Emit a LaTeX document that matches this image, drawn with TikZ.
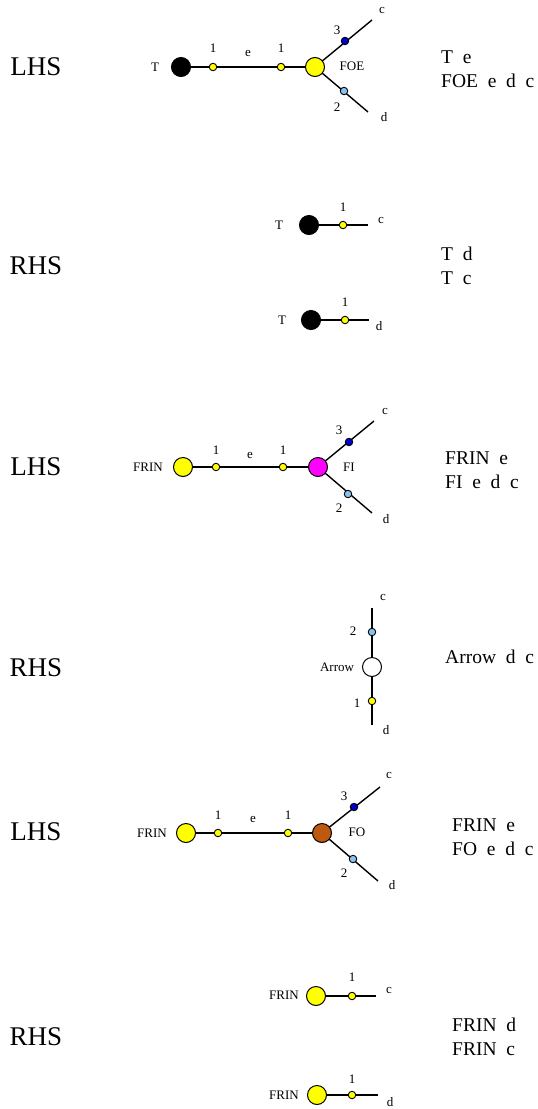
\documentclass[tikz,border=0pt]{standalone}
\usepackage[dvipsnames,svgnames,x11names]{xcolor}
\usepackage{fontspec}
\setmainfont{Liberation Serif}
\usetikzlibrary{backgrounds}
\definecolor{portdark}{RGB}{0,0,205}
\definecolor{portlight}{RGB}{135,195,238}
\definecolor{fobrown}{RGB}{190,90,15}
\definecolor{dotyellow}{RGB}{255,255,0}
\definecolor{fimagenta}{RGB}{255,0,255}
\tikzset{
  bigdot/.style={circle,draw,line width=1pt,minimum size=19pt,inner sep=0pt},
  smalldot/.style={circle,draw,line width=0.9pt,minimum size=7.5pt,inner sep=0pt},
  lbl/.style={font=\fontsize{13}{15}\selectfont,inner sep=0pt},
  side/.style={font=\fontsize{27}{30}\selectfont,inner sep=0pt},
  rel/.style={font=\fontsize{19.5}{24}\selectfont,align=left,anchor=west,inner sep=0pt},
  wire/.style={line width=1.4pt}
}

\begin{document}
\begin{tikzpicture}[x=1pt,y=-1pt]
    \useasboundingbox (0,0) rectangle (538,1109);
    \node[side] (lhsA) at (36,67) {LHS};
    \node[bigdot,fill=black] (tA) at (181,67) {};
    \node[lbl] (tAl) at (155,67) {T};
    \node[smalldot,fill=dotyellow] (pA1) at (213,67) {};
    \node[lbl] at (213,48) {1};
    \node[lbl] at (248,53) {e};
    \node[smalldot,fill=dotyellow] (pA2) at (281,67) {};
    \node[lbl] at (281,48) {1};
    \node[bigdot,fill=dotyellow] (foeA) at (315,67) {};
    \node[lbl] at (352,66) {FOE};
    \node[smalldot,fill=portdark] (qA3) at (345,41) {};
    \node[lbl] at (337,30) {3};
    \coordinate (cA) at (372,20);
    \node[lbl] at (382,10) {c};
    \node[smalldot,fill=portlight] (qA2) at (344,91) {};
    \node[lbl] at (337,107) {2};
    \coordinate (dA) at (368,112);
    \node[lbl] at (384,117) {d};
    \node[rel] (relA) at (441,69) {T\ \ e\\FOE\ \ e\ \ d\ \ c};
    \begin{scope}[on background layer]
        \draw[wire] (tA)--(pA1)--(pA2)--(foeA);
        \draw[wire] (foeA.center)--(cA);
        \draw[wire] (foeA.center)--(dA);
    \end{scope}

    \node[side] (rhsB) at (36,266) {RHS};
    \node[lbl] at (279,225) {T};
    \node[bigdot,fill=black] (tB1) at (309,225) {};
    \node[smalldot,fill=dotyellow] (pB1) at (343,225) {};
    \node[lbl] at (343,207) {1};
    \coordinate (cB) at (368,225);
    \node[lbl] at (381,220) {c};
    \node[lbl] at (282,320) {T};
    \node[bigdot,fill=black] (tB2) at (311,320) {};
    \node[smalldot,fill=dotyellow] (pB2) at (345,320) {};
    \node[lbl] at (345,302) {1};
    \coordinate (dB) at (369,320);
    \node[lbl] at (379,326) {d};
    \node[rel] (relB) at (441,266) {T\ \ d\\T\ \ c};
    \begin{scope}[on background layer]
        \draw[wire] (tB1)--(pB1)--(cB);
        \draw[wire] (tB2)--(pB2)--(dB);
    \end{scope}

    \node[side] (lhsC) at (36,467) {LHS};
    \node[lbl] at (148,467) {FRIN};
    \node[bigdot,fill=dotyellow] (fC) at (183,467) {};
    \node[smalldot,fill=dotyellow] (pC1) at (216,467) {};
    \node[lbl] at (216,450) {1};
    \node[lbl] at (250,455) {e};
    \node[smalldot,fill=dotyellow] (pC2) at (283,467) {};
    \node[lbl] at (283,450) {1};
    \node[bigdot,fill=fimagenta] (fiC) at (318,467) {};
    \node[lbl] at (349,467) {FI};
    \node[smalldot,fill=portdark] (qC3) at (349,442) {};
    \node[lbl] at (339,430) {3};
    \coordinate (cC) at (374,421);
    \node[lbl] at (385,411) {c};
    \node[smalldot,fill=portlight] (qC2) at (348,494) {};
    \node[lbl] at (339,508) {2};
    \coordinate (dC) at (372,513);
    \node[lbl] at (386,519) {d};
    \node[rel] (relC) at (445,470) {FRIN\ \ e\\FI\ \ e\ \ d\ \ c};
    \begin{scope}[on background layer]
        \draw[wire] (fC)--(pC1)--(pC2)--(fiC);
        \draw[wire] (fiC.center)--(cC);
        \draw[wire] (fiC.center)--(dC);
    \end{scope}

    \node[side] (rhsD) at (36,668) {RHS};
    \node[bigdot,fill=white] (arD) at (372,667) {};
    \node[lbl] at (337,667) {Arrow};
    \node[smalldot,fill=portlight] (qD2) at (372,632) {};
    \node[lbl] at (353,631) {2};
    \coordinate (cD) at (372,608);
    \node[lbl] at (383,597) {c};
    \node[smalldot,fill=dotyellow] (pD1) at (372,701) {};
    \node[lbl] at (357,703) {1};
    \coordinate (dD) at (372,725);
    \node[lbl] at (386,730) {d};
    \node[rel] (relD) at (445,657) {Arrow\ \ d\ \ c};
    \begin{scope}[on background layer]
        \draw[wire] (cD)--(qD2)--(arD)--(pD1)--(dD);
    \end{scope}

    \node[side] (lhsE) at (36,832) {LHS};
    \node[lbl] at (152,833) {FRIN};
    \node[bigdot,fill=dotyellow] (fE) at (186,833) {};
    \node[smalldot,fill=dotyellow] (pE1) at (218,833) {};
    \node[lbl] at (218,815) {1};
    \node[lbl] at (253,819) {e};
    \node[smalldot,fill=dotyellow] (pE2) at (288,833) {};
    \node[lbl] at (288,815) {1};
    \node[bigdot,fill=fobrown] (foE) at (322,833) {};
    \node[lbl] at (357,832) {FO};
    \node[smalldot,fill=portdark] (qE3) at (354,807) {};
    \node[lbl] at (344,796) {3};
    \coordinate (cE) at (380,787);
    \node[lbl] at (389,775) {c};
    \node[smalldot,fill=portlight] (qE2) at (353,859) {};
    \node[lbl] at (344,873) {2};
    \coordinate (dE) at (378,881);
    \node[lbl] at (392,885) {d};
    \node[rel] (relE) at (452,837) {FRIN\ \ e\\FO\ \ e\ \ d\ \ c};
    \begin{scope}[on background layer]
        \draw[wire] (fE)--(pE1)--(pE2)--(foE);
        \draw[wire] (foE.center)--(cE);
        \draw[wire] (foE.center)--(dE);
    \end{scope}

    \node[side] (rhsF) at (36,1037) {RHS};
    \node[lbl] at (284,995) {FRIN};
    \node[bigdot,fill=dotyellow] (fF1) at (316,996) {};
    \node[smalldot,fill=dotyellow] (pF1) at (352,996) {};
    \node[lbl] at (352,977) {1};
    \coordinate (cF) at (376,996);
    \node[lbl] at (389,990) {c};
    \node[lbl] at (284,1095) {FRIN};
    \node[bigdot,fill=dotyellow] (fF2) at (317,1095) {};
    \node[smalldot,fill=dotyellow] (pF2) at (352,1095) {};
    \node[lbl] at (352,1079) {1};
    \coordinate (dF) at (378,1095);
    \node[lbl] at (390,1102) {d};
    \node[rel] (relF) at (452,1037) {FRIN\ \ d\\FRIN\ \ c};
    \begin{scope}[on background layer]
        \draw[wire] (fF1)--(pF1)--(cF);
        \draw[wire] (fF2)--(pF2)--(dF);
    \end{scope}
\end{tikzpicture}
\end{document}
